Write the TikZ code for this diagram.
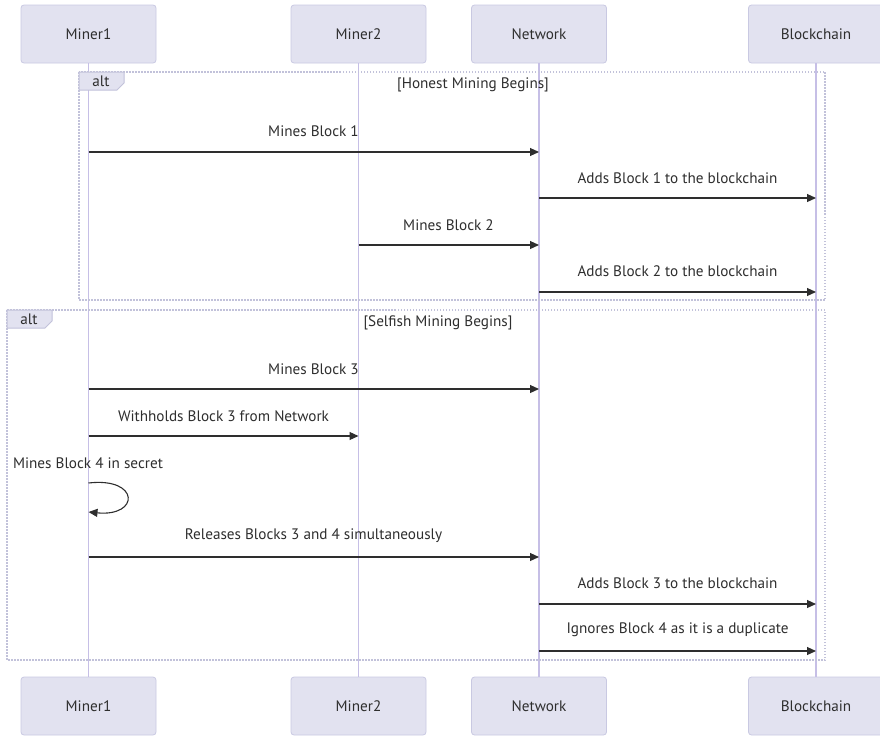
\documentclass[tikz,border=0pt]{standalone}
\usepackage{fontspec}
\setmainfont{PT Sans}
\usetikzlibrary{arrows.meta}
\definecolor{actorfill}{HTML}{E2E2F0}
\definecolor{actorline}{HTML}{C9C9E2}
\definecolor{lifeline}{HTML}{C6BFE6}
\definecolor{loopline}{HTML}{C2C2DA}
\definecolor{ink}{HTML}{2E2E2E}
\tikzset{
  actor/.style={draw=actorline, fill=actorfill, rounded corners=3pt, line width=0.8pt,
    minimum width=135pt, minimum height=58pt, inner sep=0pt, text=ink, font=\fontsize{15.2}{17}\selectfont},
  life/.style={draw=lifeline, line width=1.1pt},
  msg/.style={draw=ink, line width=1.1pt, -{Triangle[length=9pt,width=8pt]}},
  msgtext/.style={text=ink, font=\fontsize{15.2}{17}\selectfont, inner sep=0pt},
  altframe/.style={draw=loopline, line width=1.2pt, dash pattern=on 1.5pt off 1.5pt},
  alttab/.style={draw=loopline, fill=actorfill, line width=1pt}
}
\begin{document}
\begin{tikzpicture}[x=1pt,y=-1pt]
\useasboundingbox (0,0) rectangle (880,736);

% participants, top and bottom
\node[actor] (m1t) at (88.5,34)  {Miner1};
\node[actor] (m2t) at (358.5,34) {Miner2};
\node[actor] (nwt) at (539,34)   {Network};
\node[actor] (bct) at (816,34)   {Blockchain};
\node[actor] (m1b) at (88.5,706)  {Miner1};
\node[actor] (m2b) at (358.5,706) {Miner2};
\node[actor] (nwb) at (539,706)   {Network};
\node[actor] (bcb) at (816,706)   {Blockchain};

% lifelines
\draw[life] (m1t) -- (m1b);
\draw[life] (m2t) -- (m2b);
\draw[life] (nwt) -- (nwb);
\draw[life] (bct) -- (bcb);

% alt frame: honest mining
\draw[altframe] (79,72) rectangle (825,300);
\draw[alttab] (79,72) -- (124,72) -- (124,83) -- (117,90) -- (79,90) -- cycle;
\node[msgtext] (alt1) at (101,81.5) {alt};
\node[msgtext] (g1) at (473,85) {[Honest Mining Begins]};

% alt frame: selfish mining
\draw[altframe] (7,310) rectangle (825,660);
\draw[alttab] (7,310) -- (52,310) -- (52,321) -- (45,328) -- (7,328) -- cycle;
\node[msgtext] (alt2) at (29,319.5) {alt};
\node[msgtext] (g2) at (438,323) {[Selfish Mining Begins]};

% message anchor points on the lifelines
\coordinate (a1) at (88.5,152); \coordinate (b1) at (539,152);
\coordinate (a2) at (539,198);  \coordinate (b2) at (816,198);
\coordinate (a3) at (358.5,245); \coordinate (b3) at (539,245);
\coordinate (a4) at (539,292);  \coordinate (b4) at (816,292);
\coordinate (a5) at (88.5,389); \coordinate (b5) at (539,389);
\coordinate (a6) at (88.5,436); \coordinate (b6) at (358.5,436);
\coordinate (s1) at (88.5,483); \coordinate (s2) at (88.5,512);
\coordinate (a7) at (88.5,557); \coordinate (b7) at (539,557);
\coordinate (a8) at (539,604);  \coordinate (b8) at (816,604);
\coordinate (a9) at (539,651);  \coordinate (b9) at (816,651);

% messages
\draw[msg] (a1) -- (b1);
\node[msgtext] (t1) at (313.5,131) {Mines Block 1};
\draw[msg] (a2) -- (b2);
\node[msgtext] (t2) at (677.5,178) {Adds Block 1 to the blockchain};
\draw[msg] (a3) -- (b3);
\node[msgtext] (t3) at (448.5,225) {Mines Block 2};
\draw[msg] (a4) -- (b4);
\node[msgtext] (t4) at (677.5,271) {Adds Block 2 to the blockchain};

\draw[msg] (a5) -- (b5);
\node[msgtext] (t5) at (313.5,369) {Mines Block 3};
\draw[msg] (a6) -- (b6);
\node[msgtext] (t6) at (223.5,416) {Withholds Block 3 from Network};
\node[msgtext] (t7) at (88,463) {Mines Block 4 in secret};
\draw[msg] (s1) .. controls (140,477) and (140,517) .. (s2);
\draw[msg] (a7) -- (b7);
\node[msgtext] (t8) at (313.5,536) {Releases Blocks 3 and 4 simultaneously};
\draw[msg] (a8) -- (b8);
\node[msgtext] (t9) at (677.5,583) {Adds Block 3 to the blockchain};
\draw[msg] (a9) -- (b9);
\node[msgtext] (t10) at (677.5,630) {Ignores Block 4 as it is a duplicate};
\end{tikzpicture}
\end{document}
